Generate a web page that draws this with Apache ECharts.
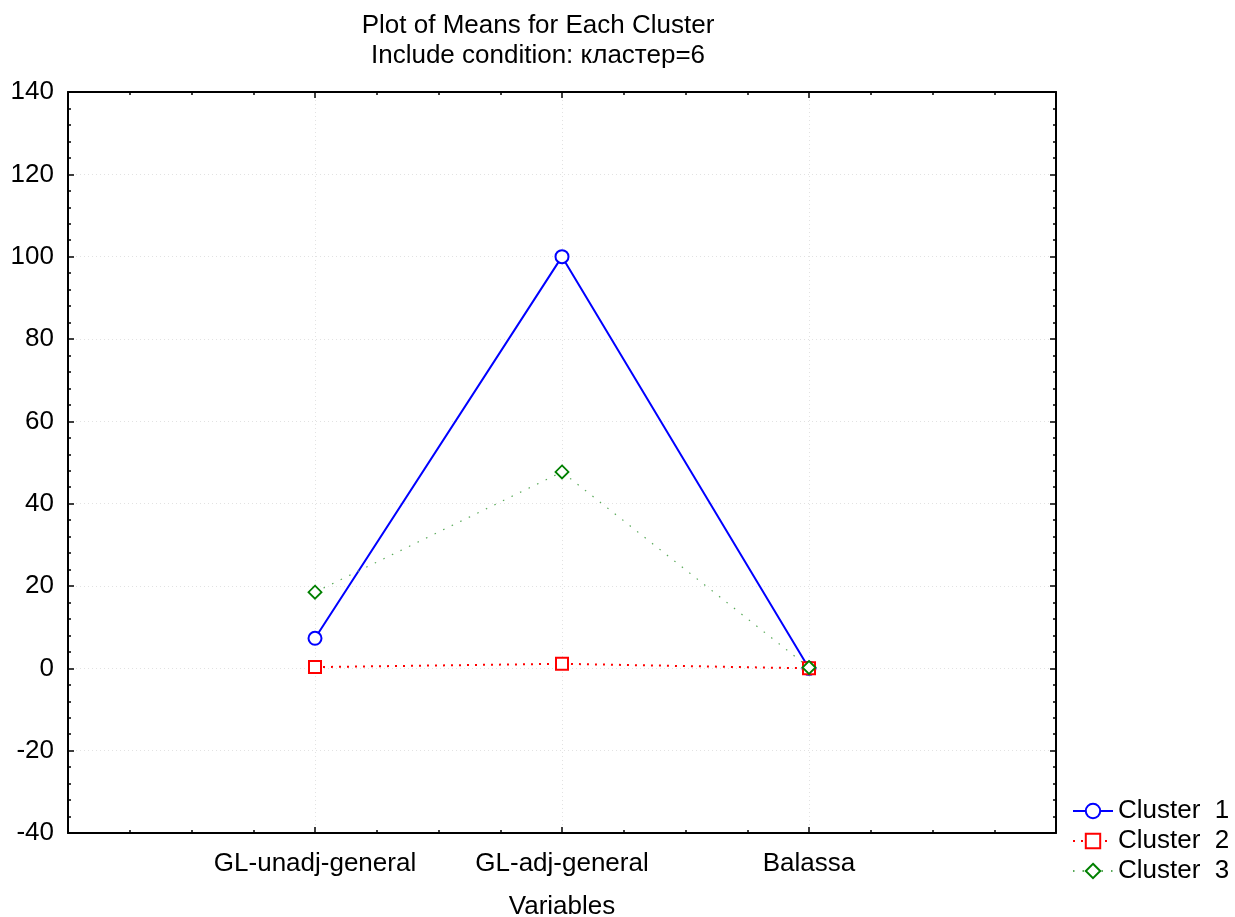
<!DOCTYPE html>
<html>
<head>
<meta charset="utf-8">
<script src="https://cdn.jsdelivr.net/npm/echarts@6/dist/echarts.min.js"></script>
<style>html,body{margin:0;padding:0;background:#fff;}#c{width:1235px;height:917px;}</style>
</head>
<body>
<div id="c"></div>
<script>
var categories = ['GL-unadj-general', 'GL-adj-general', 'Balassa'];
var seriesNames = ['Cluster  1', 'Cluster  2', 'Cluster  3'];
var cluster1 = [7.3, 100, 0];
var cluster2 = [0.3, 1.1, 0];
var cluster3 = [18.5, 47.7, 0.2];
var titleLines = ['Plot of Means for Each Cluster', 'Include condition: кластер=6'];
var xAxisName = 'Variables';

var FONT = "'Liberation Sans', Arial, sans-serif";
function pts(arr) { return arr.map(function (v, i) { return [i + 1, v]; }); }

var chart = echarts.init(document.getElementById('c'), null, {renderer: 'canvas'});
var axisLine = {show: true, onZero: false, lineStyle: {color: '#000', width: 2}};
var tick = {show: true, inside: true, length: 6, lineStyle: {color: '#000', width: 1.5}};
var minorX = {show: true, splitNumber: 4, length: 3, lineStyle: {color: '#000', width: 1.5}};
var minorY = {show: true, splitNumber: 5, length: 3, lineStyle: {color: '#000', width: 1.5}};
var grid = {show: true, lineStyle: {color: '#e2e2e2', type: [1, 3], width: 1}};

chart.setOption({
  animation: false,
  backgroundColor: '#fff',
  textStyle: {fontFamily: FONT},
  title: {
    text: titleLines.join('\n'),
    left: 533, top: 6, textAlign: 'center',
    textStyle: {fontFamily: FONT, fontSize: 26, fontWeight: 'normal', color: '#000', lineHeight: 30}
  },
  grid: {left: 68, right: 179, top: 92, bottom: 84, containLabel: false, outerBoundsMode: 'none'},
  legend: {
    orient: 'vertical', left: 1067, top: 793,
    itemWidth: 40, itemHeight: 18, itemGap: 4,
    textStyle: {fontFamily: FONT, fontSize: 26, color: '#000'},
    data: seriesNames
  },
  xAxis: [{
    type: 'value', min: 0, max: 4, interval: 1, position: 'bottom',
    axisLine: axisLine, axisTick: tick, minorTick: minorX, splitLine: grid,
    axisLabel: {
      fontFamily: FONT, fontSize: 26, color: '#000', margin: 18,
      formatter: function (v) { return (v >= 1 && v <= categories.length) ? categories[v - 1] : ''; }
    },
    name: xAxisName, nameLocation: 'middle', nameGap: 61,
    nameTextStyle: {fontFamily: FONT, fontSize: 26, color: '#000'}
  }, {
    type: 'value', min: 0, max: 4, interval: 1, position: 'top',
    axisLine: axisLine, axisTick: tick, minorTick: minorX, splitLine: {show: false},
    axisLabel: {show: false}
  }],
  yAxis: [{
    type: 'value', min: -40, max: 140, interval: 20, position: 'left',
    axisLine: axisLine, axisTick: tick, minorTick: minorY, splitLine: grid,
    axisLabel: {fontFamily: FONT, fontSize: 26, color: '#000', margin: 14}
  }, {
    type: 'value', min: -40, max: 140, interval: 20, position: 'right',
    axisLine: axisLine, axisTick: tick, minorTick: minorY, splitLine: {show: false},
    axisLabel: {show: false}
  }],
  series: [{
    name: seriesNames[0], type: 'line', data: pts(cluster1),
    symbol: 'circle', symbolSize: 13,
    lineStyle: {color: '#0000ff', width: 2, type: 'solid'},
    itemStyle: {color: '#fff', borderColor: '#0000ff', borderWidth: 2}
  }, {
    name: seriesNames[1], type: 'line', data: pts(cluster2),
    symbol: 'rect', symbolSize: 12,
    lineStyle: {color: '#ff0000', width: 2, type: [2, 6]},
    itemStyle: {color: '#fff', borderColor: '#ff0000', borderWidth: 2}
  }, {
    name: seriesNames[2], type: 'line', data: pts(cluster3),
    symbol: 'diamond', symbolSize: 13,
    lineStyle: {color: '#5aaa5a', width: 1.2, type: [1.5, 8]},
    itemStyle: {color: '#fff', borderColor: '#008000', borderWidth: 1.8}
  }]
});
</script>
</body>
</html>
